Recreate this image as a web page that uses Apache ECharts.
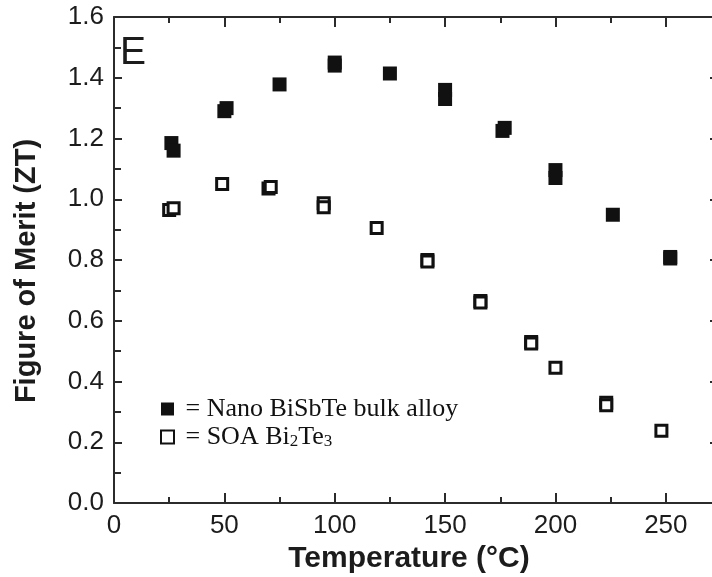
<!DOCTYPE html>
<html>
<head>
<meta charset="utf-8">
<script src="https://cdn.jsdelivr.net/npm/echarts@6/dist/echarts.min.js"></script>
<style>
  html, body { margin: 0; padding: 0; background: #fff; }
  #chart { width: 712px; height: 577px; }
</style>
</head>
<body>
<div id="chart"></div>
<script>
// Figure of merit (ZT) vs temperature, nano-structured alloy vs state-of-the-art Bi2Te3
const nanoName = 'Nano BiSbTe bulk alloy';
const soaName = 'SOA Bi2Te3';
const xTitle = 'Temperature (°C)';
const yTitle = 'Figure of Merit (ZT)';

// [temperature °C, ZT]
const nanoPoints = [
  [26, 1.185], [27, 1.16],
  [50, 1.29], [51, 1.30],
  [75, 1.378],
  [100, 1.45], [100, 1.44],
  [125, 1.414],
  [150, 1.36], [150, 1.33],
  [176, 1.225], [177, 1.235],
  [200, 1.096], [200, 1.07],
  [226, 0.949],
  [252, 0.81], [252, 0.805]
];

const soaPoints = [
  [25, 0.965], [27, 0.97],
  [49, 1.05],
  [70, 1.035], [71, 1.04],
  [95, 0.987], [95, 0.974],
  [119, 0.905],
  [142, 0.80], [142, 0.795],
  [166, 0.665], [166, 0.66],
  [189, 0.53], [189, 0.525],
  [200, 0.445],
  [223, 0.33], [223, 0.322],
  [248, 0.238]
];

const xTicks = { min: 0, max: 275, interval: 50 };
const yTicks = { min: 0, max: 1.6, interval: 0.2 };

const ink = '#1c1c1c';
const axisLine = { show: true, onZero: false, lineStyle: { color: '#2b2b2b', width: 2 } };

const chart = echarts.init(document.getElementById('chart'));

function xAxisDef(pos, labels) {
  return {
    type: 'value', position: pos,
    min: xTicks.min, max: xTicks.max, interval: xTicks.interval,
    axisLine: axisLine,
    axisTick: { show: true, inside: true, length: 10, lineStyle: { color: '#2b2b2b', width: 2 } },
    minorTick: { show: true, splitNumber: 2, length: 6, lineStyle: { color: '#2b2b2b', width: 2 } },
    splitLine: { show: false },
    axisLabel: {
      show: labels, margin: 10, color: ink,
      fontFamily: 'Liberation Sans', fontSize: 26,
      showMaxLabel: false
    }
  };
}

function yAxisDef(pos, labels) {
  return {
    type: 'value', position: pos,
    min: yTicks.min, max: yTicks.max, interval: yTicks.interval,
    axisLine: axisLine,
    axisTick: { show: true, inside: true, length: labels ? 8 : 11, lineStyle: { color: '#2b2b2b', width: 2 } },
    minorTick: { show: true, splitNumber: 2, length: 7, lineStyle: { color: '#2b2b2b', width: 2 } },
    splitLine: { show: false },
    axisLabel: {
      show: labels, margin: 10, color: ink,
      fontFamily: 'Liberation Sans', fontSize: 26,
      formatter: v => v.toFixed(1)
    }
  };
}

const titleFont = { fontFamily: 'Liberation Sans', fontWeight: 'bold', fill: ink };

chart.setOption({
  animation: false,
  backgroundColor: '#fff',
  grid: { left: 114, right: -9, top: 17, bottom: 74, containLabel: false, outerBoundsMode: 'none' },
  xAxis: [xAxisDef('bottom', true), xAxisDef('top', false)],
  yAxis: [yAxisDef('left', true), yAxisDef('right', false)],
  legend: {
    orient: 'vertical', left: 160, top: 396, padding: 0,
    itemWidth: 13, itemHeight: 13, itemGap: 2,
    selectedMode: false,
    data: [
      { name: nanoName, icon: 'rect', itemStyle: { color: '#111', borderWidth: 0 } },
      { name: soaName, icon: 'rect', itemStyle: { color: '#fff', borderColor: '#111', borderWidth: 2 } }
    ],
    formatter: name => name === soaName
      ? ' = SOA Bi{s|2}Te{s|3}'
      : ' = ' + name,
    textStyle: {
      color: '#111', fontFamily: 'Liberation Serif', fontSize: 26, lineHeight: 26,
      rich: {
        s: { fontFamily: 'Liberation Serif', fontSize: 17, color: '#111', verticalAlign: 'bottom', lineHeight: 26 }
      }
    }
  },
  graphic: [
    {
      type: 'text', left: 120, top: 34,
      style: { text: 'E', fontFamily: 'Liberation Sans', fontSize: 39, fill: ink }
    },
    {
      type: 'text', x: 409, y: 559,
      style: Object.assign({ text: xTitle, fontSize: 30, textAlign: 'center', textVerticalAlign: 'middle' }, titleFont)
    },
    {
      type: 'text', x: 27, y: 271, rotation: Math.PI / 2,
      style: Object.assign({ text: yTitle, fontSize: 29, textAlign: 'center', textVerticalAlign: 'middle' }, titleFont)
    }
  ],
  series: [
    {
      name: nanoName, type: 'scatter', xAxisIndex: 0, yAxisIndex: 0,
      symbol: 'rect', symbolSize: 14,
      itemStyle: { color: '#111', opacity: 1 },
      data: nanoPoints
    },
    {
      name: soaName, type: 'scatter', xAxisIndex: 0, yAxisIndex: 0,
      symbol: 'rect', symbolSize: 11,
      itemStyle: { color: '#fff', borderColor: '#111', borderWidth: 3, opacity: 1 },
      data: soaPoints
    }
  ]
});
</script>
</body>
</html>
